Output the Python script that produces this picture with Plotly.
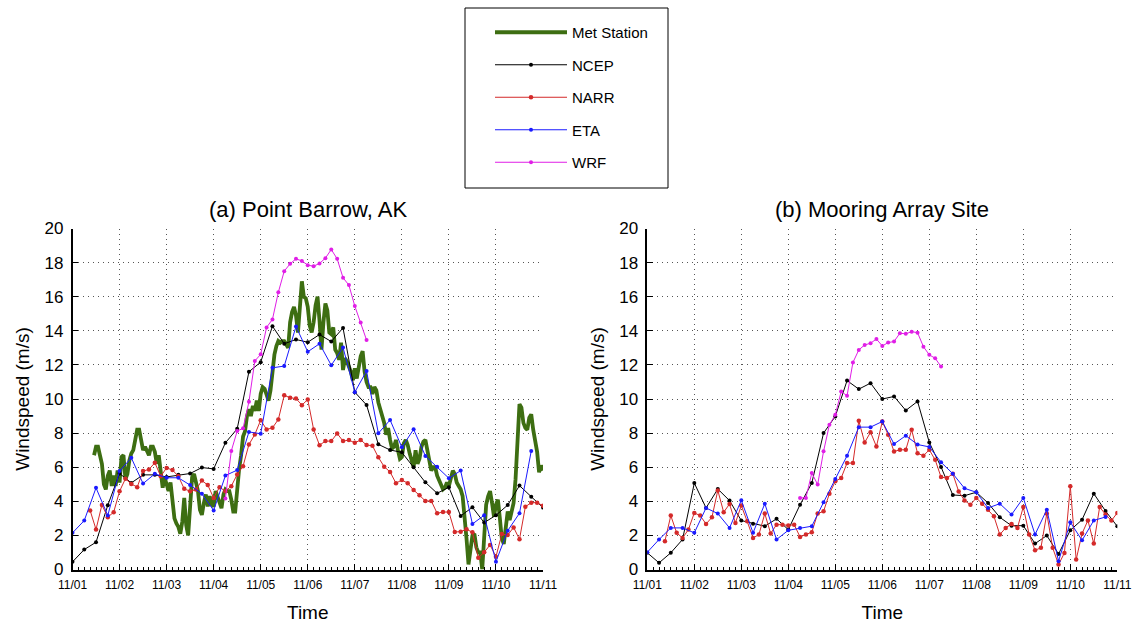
import numpy as np
import plotly.graph_objects as go

# ---------------- data ----------------
day_ticks = [0, 1, 2, 3, 4, 5, 6, 7, 8, 9, 10]
day_labels = ["11/01", "11/02", "11/03", "11/04", "11/05", "11/06",
              "11/07", "11/08", "11/09", "11/10", "11/11"]

# Met Station (hourly, starting hour 11 of 11/01) - Point Barrow only
met_start_hour = 11
met_station = [
    6.7, 7.2, 7.2, 6.6, 6.2, 5.0, 4.7, 5.5, 5.8, 4.9,
    5.5, 4.9, 5.8, 5.1, 6.6, 6.7, 5.3, 5.6, 6.4, 6.8,
    7.0, 7.6, 8.2, 8.2, 7.6, 7.0, 7.2, 7.0, 6.7, 7.2,
    7.2, 6.9, 6.2, 6.7, 5.8, 4.8, 5.4, 4.9, 4.6, 5.1,
    4.0, 3.0, 2.7, 2.5, 2.1, 2.8, 4.2, 2.6, 2.0, 3.5,
    5.4, 5.6, 5.2, 4.6, 3.5, 3.2, 3.9, 4.4, 3.7, 4.3,
    3.8, 3.7, 4.6, 4.3, 3.9, 3.6, 4.4, 4.7, 4.6, 4.6,
    4.1, 3.4, 3.4, 5.0, 5.9, 6.7, 7.8, 8.1, 9.0, 9.4,
    9.0, 9.6, 9.3, 9.9, 9.3, 10.3, 10.7, 10.6, 10.2, 9.9,
    10.5, 11.5, 12.6, 13.1, 13.4, 13.3, 13.4, 13.4, 13.2, 13.0,
    14.5, 15.1, 15.4, 14.9, 13.9, 15.6, 16.9, 16.0, 15.9, 15.4,
    14.3, 13.9, 14.5, 15.5, 16.0, 14.6, 12.9, 14.5, 15.6, 15.2,
    13.9, 13.8, 14.2, 12.9, 12.7, 12.3, 13.3, 11.7, 12.4, 12.2,
    11.9, 11.6, 11.1, 11.8, 11.2, 11.9, 12.5, 12.8, 11.6, 11.0,
    10.7, 10.7, 10.3, 10.7, 10.5, 9.8, 9.4, 8.8, 8.6, 7.9,
    8.3, 7.6, 7.1, 7.2, 7.6, 7.0, 6.5, 6.6, 7.4, 7.6,
    7.3, 6.8, 6.4, 6.0, 7.0, 6.2, 6.5, 7.2, 7.5, 7.6,
    7.0, 6.3, 5.8, 6.0, 6.0, 5.5, 5.2, 4.9, 4.7, 4.8,
    5.1, 4.9, 5.3, 5.8, 5.6, 5.1, 4.9, 4.7, 4.3, 3.2,
    1.8, 0.3, 1.0, 2.0, 2.1, 1.3, 1.0, 1.0, 0.0, 1.9,
    3.8, 4.3, 4.6, 3.9, 3.1, 3.8, 4.1, 3.0, 1.8, 1.5,
    2.4, 3.4, 2.9, 3.3, 3.9, 5.3, 8.0, 9.7, 9.5, 8.6,
    8.3, 8.2, 8.9, 9.1, 8.2, 7.6, 6.9, 5.7, 6.1, 5.8,
]

# NCEP (6-hourly from 11/01 00:00)
ncep_a = [0.45, 1.17, 1.6, 3.77, 5.63, 5.08, 5.55, 5.55, 5.43, 5.55,
          5.63, 5.98, 5.9, 7.43, 8.25, 11.6, 12.16, 14.27, 13.24, 13.49,
          13.33, 13.78, 13.37, 14.17, 10.4, 9.65, 7.34, 7.01, 6.87, 5.99,
          5.11, 4.47, 4.82, 3.14, 3.65, 2.75, 3.18, 3.78, 4.92, 4.27, 3.63]
ncep_b = [0.98, 0.39, 0.98, 1.76, 5.07, 3.61, 4.72, 4.04, 2.87, 2.69,
          2.54, 2.97, 2.34, 3.8, 5.07, 8.0, 8.98, 11.08, 10.58, 10.93,
          10.0, 10.15, 9.33, 9.86, 7.45, 6.01, 4.37, 4.33, 4.53, 3.9,
          3.06, 2.57, 2.57, 1.52, 1.99, 0.91, 2.3, 2.92, 4.45, 3.43, 2.53]

# NARR (3-hourly from 11/01 09:00)
narr_start_day = 0.375
narr_a = [3.46, 2.35, 3.79, 3.07, 3.36, 4.59, 5.32, 5.02, 4.83, 5.77,
          5.87, 6.26, 5.47, 5.96, 5.83, 5.47, 4.73, 4.59, 4.69, 5.22,
          4.95, 4.2, 4.83, 4.59, 4.89, 5.57, 6.06, 7.33, 7.92, 8.76,
          8.21, 8.31, 8.8, 10.22, 10.07, 10.03, 9.64, 9.97, 8.21, 7.29,
          7.53, 7.53, 7.98, 7.53, 7.59, 7.43,
          7.6, 7.3, 7.26, 6.58, 6.03, 5.72, 5.06, 5.25, 5.06, 4.66,
          4.35, 4.02, 4.02, 3.3, 3.37, 3.37, 2.2, 2.22, 2.36, 2.18,
          0.69, 1.01, 1.44, 0.75, 2.08, 2.02, 2.47, 1.77, 3.68, 3.92,
          3.92, 3.74]
narr_b = [1.66, 3.16, 2.15, 1.85, 2.34, 3.32, 3.16, 2.67, 3.06, 4.64,
          3.36, 3.84, 2.73, 3.75, 2.83, 1.85, 2.05, 3.28, 2.11, 2.63,
          2.63, 2.58, 2.63, 1.91, 2.05, 2.19, 3.28, 3.41, 4.45, 5.17,
          5.37, 6.24, 6.24, 8.72,
          7.45, 8.05, 7.21, 8.68, 7.9, 6.92, 7.02, 7.02, 8.19, 6.82,
          6.67, 7.02, 6.43, 5.42, 5.36, 5.62, 4.58, 4.04, 3.8, 4.2,
          3.86, 3.51, 3.12, 2.05, 2.44, 2.67, 2.44, 3.67, 2.05, 1.13,
          1.27, 3.28, 1.27, 0.29, 0.97, 4.88, 0.58, 2.11, 2.88, 1.52,
          3.67, 3.22, 2.87, 3.32]

# ETA (6-hourly from 11/01 00:00)
eta_a = [2.15, 2.87, 4.79, 3.17, 5.77, 6.55, 5.04, 5.61, 5.38, 5.38,
         4.95, 4.44, 3.46, 5.51, 5.83, 8.07, 7.96, 11.83, 11.93, 14.25,
         12.77, 13.24, 11.98, 13.02, 10.4, 11.64, 7.99, 8.77, 7.17, 8.22,
         6.66, 6.03, 5.35, 5.8, 2.67, 3.18, 0.46, 2.28, 3.3, 6.95]
eta_b = [1.01, 1.76, 2.44, 2.44, 2.15, 3.61, 3.28, 2.44, 4.06, 2.15,
         3.86, 1.76, 2.3, 2.44, 2.54, 3.94, 5.31, 6.67, 8.35, 8.35,
         8.68, 7.36, 7.85, 7.33, 7.19, 6.29, 5.62, 4.76, 4.53, 3.61,
         3.86, 3.22, 4.2, 2.05, 3.51, 0.49, 2.77, 1.71, 2.88, 3.08]

# WRF (3-hourly from 11/04 06:00)
wrf_start_day = 3.25
wrf_a = [4.17, 6.95, 8.12, 8.28, 9.84, 12.23, 12.62, 14.2, 14.67, 16.26,
         17.5, 17.93, 18.22, 18.1, 17.85, 17.79, 17.95, 18.26, 18.77, 18.22,
         17.11, 16.68, 15.45, 14.48, 13.46]
wrf_b = [4.2, 4.2, 5.66, 4.98, 6.93, 8.49, 9.07, 10.44, 10.19, 12.14,
         12.88, 13.17, 13.27, 13.52, 13.11, 13.31, 13.37, 13.86, 13.82, 13.95,
         13.89, 13.07, 12.59, 12.39, 11.9]

titles = ["(a) Point Barrow, AK", "(b) Mooring Array Site"]

# ---------------- styling ----------------
FONT = "Liberation Sans, Arial, sans-serif"
C_MET = "#3d6e12"
C_NCEP = "#000000"
C_NARR = "#d42a2a"
C_ETA = "#1a1aff"
C_WRF = "#e01ee6"


def times(start, step, n):
    return start + step * np.arange(n)


fig = go.Figure()

panels = [
    dict(xa="x", ya="y", ncep=ncep_a, narr=narr_a, eta=eta_a, wrf=wrf_a, met=True),
    dict(xa="x2", ya="y2", ncep=ncep_b, narr=narr_b, eta=eta_b, wrf=wrf_b, met=False),
]

for i, p in enumerate(panels):
    show = i == 0
    if p["met"]:
        fig.add_trace(go.Scatter(
            x=(met_start_hour + np.arange(len(met_station))) / 24.0, y=met_station,
            mode="lines", name="Met Station", line=dict(color=C_MET, width=3.8),
            xaxis=p["xa"], yaxis=p["ya"], showlegend=show, legendgroup="met"))
    fig.add_trace(go.Scatter(
        x=times(0, 0.25, len(p["ncep"])), y=p["ncep"], mode="lines+markers",
        name="NCEP", line=dict(color=C_NCEP, width=1), marker=dict(size=4, color=C_NCEP),
        xaxis=p["xa"], yaxis=p["ya"], showlegend=show, legendgroup="ncep"))
    fig.add_trace(go.Scatter(
        x=times(narr_start_day, 0.125, len(p["narr"])), y=p["narr"], mode="lines+markers",
        name="NARR", line=dict(color=C_NARR, width=1), marker=dict(size=4.5, color=C_NARR),
        xaxis=p["xa"], yaxis=p["ya"], showlegend=show, legendgroup="narr"))
    fig.add_trace(go.Scatter(
        x=times(0, 0.25, len(p["eta"])), y=p["eta"], mode="lines+markers",
        name="ETA", line=dict(color=C_ETA, width=1), marker=dict(size=4, color=C_ETA),
        xaxis=p["xa"], yaxis=p["ya"], showlegend=show, legendgroup="eta"))
    fig.add_trace(go.Scatter(
        x=times(wrf_start_day, 0.125, len(p["wrf"])), y=p["wrf"], mode="lines+markers",
        name="WRF", line=dict(color=C_WRF, width=1), marker=dict(size=4, color=C_WRF),
        xaxis=p["xa"], yaxis=p["ya"], showlegend=show, legendgroup="wrf"))

W, H = 1138, 623
y_dom = [(H - 569.5) / H, (H - 228.5) / H]
x_doms = [[72.5 / W, 543 / W], [647.3 / W, 1117.3 / W]]

GRID = dict(showgrid=True, gridcolor="#555555", griddash="1px,4px", gridwidth=1)

xcommon = dict(
    range=[0, 10], tickvals=day_ticks, ticktext=day_labels,
    ticks="inside", ticklen=6, tickwidth=1, tickcolor="black",
    tickfont=dict(size=12, color="black", family=FONT),
    showline=True, linecolor="black", linewidth=1.5, mirror=False,
    zeroline=False, automargin=False, ticklabelstandoff=3,
    minor=dict(dtick=0.125, tick0=0, ticks="inside", ticklen=3, tickcolor="black", showgrid=False),
    title=dict(text="Time", font=dict(size=19, color="black", family=FONT), standoff=22),
    **GRID,
)
ycommon = dict(
    range=[0, 20], dtick=2, tick0=0,
    ticks="inside", ticklen=6, tickwidth=1, tickcolor="black",
    tickfont=dict(size=17, color="black", family=FONT),
    showline=True, linecolor="black", linewidth=1.5, mirror=False,
    zeroline=False, ticklabelstandoff=4, automargin=False,
    title=dict(text="Windspeed (m/s)", font=dict(size=19, color="black", family=FONT), standoff=10),
    **GRID,
)

fig.update_layout(
    width=W, height=H,
    margin=dict(l=0, r=0, t=0, b=0),
    paper_bgcolor="white", plot_bgcolor="white",
    font=dict(family=FONT, color="black"),
    xaxis=dict(domain=x_doms[0], anchor="y", **xcommon),
    yaxis=dict(domain=y_dom, anchor="x", **ycommon),
    xaxis2=dict(domain=x_doms[1], anchor="y2", **xcommon),
    yaxis2=dict(domain=y_dom, anchor="x2", **ycommon),
    legend=dict(
        x=490 / W, y=1 - 16 / H, xanchor="left", yanchor="top",
        bgcolor="rgba(0,0,0,0)", borderwidth=0,
        font=dict(size=15, color="black", family=FONT),
        itemwidth=72, tracegroupgap=10,
    ),
    shapes=[dict(type="rect", xref="paper", yref="paper",
                 x0=465 / W, x1=668 / W, y0=1 - 188 / H, y1=1 - 8 / H,
                 line=dict(color="black", width=1), fillcolor="rgba(0,0,0,0)")],
    annotations=[
        dict(text=titles[0], x=sum(x_doms[0]) / 2, y=1 - 209 / H, xref="paper", yref="paper",
             showarrow=False, xanchor="center", yanchor="middle",
             font=dict(size=22, color="black", family=FONT)),
        dict(text=titles[1], x=sum(x_doms[1]) / 2, y=1 - 209 / H, xref="paper", yref="paper",
             showarrow=False, xanchor="center", yanchor="middle",
             font=dict(size=22, color="black", family=FONT)),
    ],
)

fig.write_html("out.html")
